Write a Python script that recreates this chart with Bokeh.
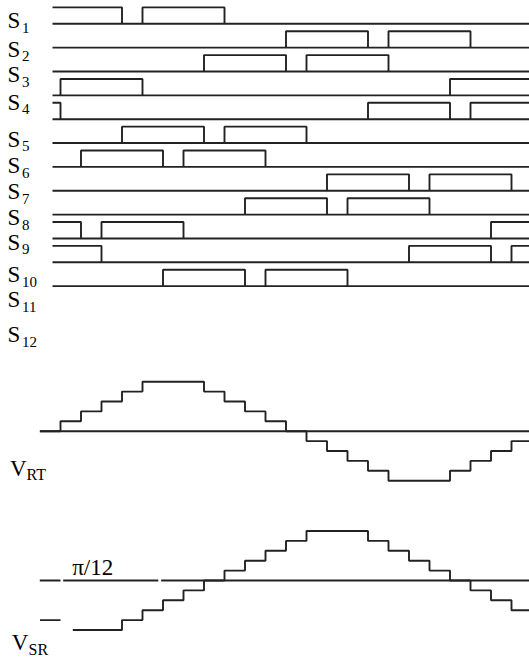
import math
from bokeh.plotting import figure
from bokeh.models import Range1d
from bokeh.core.properties import value
from bokeh.embed import file_html
from bokeh.resources import INLINE

# ---------------- data (time in 15-degree steps, 24 steps per period) -------------
S_NAMES = ["1", "2", "3", "4", "5", "6", "7", "8", "9", "10", "11", "12"]
S_PULSES = [
    [[-1, 3], [4, 8]],                 # S1
    [[11, 15], [16, 20]],              # S2
    [[7, 11], [12, 16]],               # S3
    [[0, 4], [19, 23]],                # S4
    [[-4, 0], [15, 19], [20, 24]],     # S5
    [[3, 7], [8, 12]],                 # S6
    [[1, 5], [6, 10]],                 # S7
    [[13, 17], [18, 22]],              # S8
    [[9, 13], [14, 18]],               # S9
    [[-3, 1], [2, 6], [21, 25]],       # S10
    [[-2, 2], [17, 21], [22, 26]],     # S11
    [[5, 9], [10, 14]],                # S12
]
STEP_EDGES = list(range(-1, 24))
VRT_LEVELS = [0, 1, 2, 3, 4, 5, 5, 5, 4, 3, 2, 1, 0, -1, -2, -3, -4, -5, -5, -5, -4, -3, -2, -1]
VSR_LEVELS = [-4, -5, -5, -5, -4, -3, -2, -1, 0, 1, 2, 3, 4, 5, 5, 5, 4, 3, 2, 1, 0, -1, -2, -3]
ANGLE_LABEL = "π/12"

# ---------------- layout ----------------
W, H = 529, 660
X0, DX = 60.0, 20.5          # pixel of step 0 and pixels per step


def px2k(px):
    return (px - X0) / DX


S_START = px2k(52)
V_START = px2k(39.3)
K_END = 24
ROW0, ROW_DY, PULSE_H = 23.3, 23.85, 16.4
VRT_AXIS, VSR_AXIS, LEVEL_PX = 430.7, 580.0, 9.9
VSR_WINDOWS = [(V_START, 0.0), (0.6, K_END)]
VSR_AXIS_WINDOWS = [(V_START, 0.0), (0.13, 4.77), (4.91, K_END)]
LABEL_Y = [28.5, 56.8, 82.5, 110.2, 146.8, 173.5, 199.5, 225.5, 250.0, 282.5, 307.5, 342.5]
BASE_SHIFT = 0.36            # em offset of the rendered baseline
FONT = value("Liberation Serif")
COL = "#222222"
LW = 1.9
BIG, SUB, VSUB = 23, 15, 16


def ty(vals, size):
    return [v - BASE_SHIFT * size for v in vals]


p = figure(width=W, height=H, output_backend="svg", toolbar_location=None,
           x_range=Range1d(px2k(0), px2k(W)), y_range=Range1d(H, 0),
           min_border=0)
p.axis.visible = False
p.xgrid.visible = False
p.ygrid.visible = False
p.outline_line_color = None
p.background_fill_color = "white"
p.border_fill_color = "white"

# ---- switching signals ----
base_x0, base_x1, base_y = [], [], []
pxs, pys = [], []
for i, pulses in enumerate(S_PULSES):
    yb = ROW0 + ROW_DY * i
    yh = yb - PULSE_H
    base_x0.append(S_START)
    base_x1.append(K_END)
    base_y.append(yb)
    for a, b in pulses:
        if a < S_START:
            pxs.append([S_START, b, b])
            pys.append([yh, yh, yb])
        else:
            pxs.append([a, a, b, b])
            pys.append([yb, yh, yh, yb])
p.segment(x0=base_x0, y0=base_y, x1=base_x1, y1=base_y, line_color=COL, line_width=LW)
p.multi_line(xs=pxs, ys=pys, line_color=COL, line_width=LW)

# labels S_i
p.text(x=[px2k(7.0)] * 12, y=ty(LABEL_Y, BIG), text=["S"] * 12, text_font=FONT,
       text_font_size=f"{BIG}px", text_color="black", text_baseline="alphabetic")
p.text(x=[px2k(21.5)] * 12, y=ty([v + 4 for v in LABEL_Y], SUB), text=S_NAMES, text_font=FONT,
       text_font_size=f"{SUB}px", text_color="black", text_baseline="alphabetic")


# ---- phase voltages ----
def step_path(edges, levels, windows, axis_y):
    xs, ys = [], []
    for w0, w1 in windows:
        for i, lv in enumerate(levels):
            a, b = max(edges[i], w0), min(edges[i + 1], w1)
            if a < b:
                xs += [a, b]
                ys += [axis_y - lv * LEVEL_PX] * 2
        xs.append(float("nan"))
        ys.append(float("nan"))
    return xs, ys


# axes
for wins, ay in [([(V_START, K_END)], VRT_AXIS), (VSR_AXIS_WINDOWS, VSR_AXIS)]:
    p.segment(x0=[w[0] for w in wins], x1=[w[1] for w in wins], y0=[ay] * len(wins),
              y1=[ay] * len(wins), line_color=COL, line_width=LW)

x, y = step_path(STEP_EDGES, VRT_LEVELS, [(V_START, K_END)], VRT_AXIS)
p.line(x, y, line_color=COL, line_width=LW)
x, y = step_path(STEP_EDGES, VSR_LEVELS, VSR_WINDOWS, VSR_AXIS)
p.line(x, y, line_color=COL, line_width=LW)

p.text(x=[px2k(9.5), px2k(11.2)], y=ty([476.7, 650.2], BIG), text=["V", "V"], text_font=FONT,
       text_font_size=f"{BIG}px", text_color="black", text_baseline="alphabetic")
p.text(x=[px2k(26.0), px2k(28.0)], y=ty([479.3, 655.0], VSUB), text=["RT", "SR"], text_font=FONT,
       text_font_size=f"{VSUB}px", text_color="black", text_baseline="alphabetic")
p.text(x=[px2k(71.7)], y=ty([575.0], BIG), text=[ANGLE_LABEL], text_font=FONT,
       text_font_size=f"{BIG}px", text_color="black", text_baseline="alphabetic")

open("out.html", "w").write(file_html(p, INLINE))
